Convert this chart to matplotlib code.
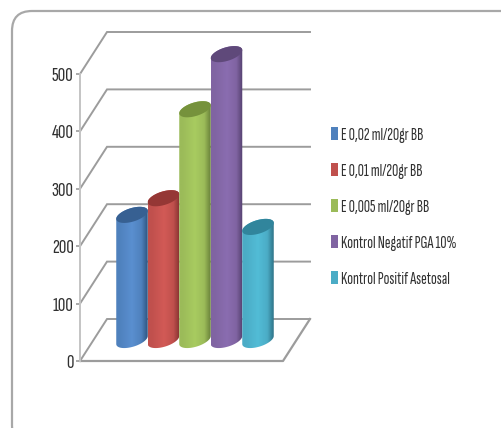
import numpy as np
import matplotlib
matplotlib.use("Agg")
import matplotlib.pyplot as plt
from matplotlib.colors import LinearSegmentedColormap
from matplotlib.patches import FancyBboxPatch, PathPatch, Patch
from matplotlib.path import Path
from matplotlib.transforms import IdentityTransform

# data
labels = ["E 0,02 ml/20gr BB", "E 0,01 ml/20gr BB", "E 0,005 ml/20gr BB",
          "Kontrol Negatif PGA 10%", "Kontrol Positif Asetosal"]
values = [218, 247, 402, 498, 197]
yticks = [0, 100, 200, 300, 400, 500]

colors = ["#4f81bd", "#c0504d", "#9bbb59", "#8064a2", "#4bacc6"]
light = ["#5a8fd0", "#d25a56", "#a8cb60", "#8a6db0", "#52bcd6"]
dark = ["#2f5580", "#843230", "#69813a", "#54406e", "#2f7488"]
caps = ["#376092", "#953735", "#76923c", "#5f497a", "#31859c"]

narrow = ["Sofia Sans Extra Condensed", "DejaVu Sans"]

W, H = 501, 428
# front plane of the box, in pixels
left, right, y_zero, y_top = 80, 283, 361, 74
# how far the back wall sits behind the front plane
depth_x, depth_y = 27, 42
back_right = 310
grid_color = "#9c9c9c"

fig = plt.figure(figsize=(W / 100, H / 100), dpi=100)
ax = fig.add_axes([left / W, 1 - y_zero / H, (right - left) / W, (y_zero - y_top) / H])
ax.patch.set_alpha(0)

# one category step is 31.5 px, first cylinder centred at 132 px
step = 31.5
ax.set_xlim((left - 132) / step, (right - 132) / step)
ax.set_ylim(0, 500)
sx = step
sy = (y_zero - y_top) / 500


def dx(px):
    return px / sx


def dy(px):
    return px / sy


# outer rounded border runs past the right and bottom edges
fig.add_artist(FancyBboxPatch((12, H - 445), 520, 434,
                              boxstyle="round,pad=0,rounding_size=20",
                              transform=IdentityTransform(),
                              fc="white", ec="#a8a8a8", lw=1.6, zorder=-5))

xl = ax.get_xlim()[0]
xr = ax.get_xlim()[1]

# side wall diagonals and back wall lines
for t in yticks:
    ax.plot([xl, xl + dx(depth_x), xl + dx(back_right - left)],
            [t, t + dy(depth_y), t + dy(depth_y)],
            color=grid_color, lw=1.4, clip_on=False, zorder=1, solid_joinstyle="miter")

# floor
ax.plot([xl, xr, xr + dx(depth_x)], [0, 0, dy(depth_y)],
        color=grid_color, lw=1.6, clip_on=False, zorder=1)

# cylinders
half_w = 0.5
tilt = dy(4)
minor = dy(7)
base = dy(depth_y / 2)
theta = np.linspace(0, 2 * np.pi, 121)
n_grad = 64

for i, v in enumerate(values):
    top = base + v
    # body outline: lower half of the foot, then upper half of the head
    t_low = np.linspace(np.pi, 2 * np.pi, 61)
    t_up = np.linspace(0, np.pi, 61)
    xs = np.r_[i + half_w * np.cos(t_low), i + half_w * np.cos(t_up)]
    ys = np.r_[base + minor * np.sin(t_low) + tilt * np.cos(t_low),
               top + minor * np.sin(t_up) + tilt * np.cos(t_up)]
    body = PathPatch(Path(np.c_[xs, ys]), fc="none", ec="none",
                     transform=ax.transData, clip_on=False)
    ax.add_patch(body)

    # horizontal shading across the body
    cmap = LinearSegmentedColormap.from_list(
        "c%d" % i, [(0, colors[i]), (0.1, colors[i]), (0.5, light[i]),
                    (0.8, colors[i]), (1, dark[i])])
    img = ax.imshow(np.linspace(0, 1, n_grad).reshape(1, -1), cmap=cmap, aspect="auto",
                    extent=(i - half_w, i + half_w, base - dy(12), top + dy(12)),
                    zorder=2 + i * 0.1)
    img.set_clip_box(fig.bbox)
    img.set_clip_path(body)

    ax.fill(i + half_w * np.cos(theta),
            top + minor * np.sin(theta) + tilt * np.cos(theta),
            color=caps[i], lw=0, clip_on=False, zorder=2.05 + i * 0.1)

ax.set_xlim(xl, xr)
ax.set_ylim(0, 500)

# left axis
ax.set_xticks([])
ax.set_yticks(yticks)
for s in ["top", "right", "bottom"]:
    ax.spines[s].set_visible(False)
ax.spines["left"].set_color("#c4c4c4")
ax.spines["left"].set_linewidth(1.4)
ax.tick_params(axis="y", length=3, width=1.2, color=grid_color, pad=1.5,
               labelsize=15, labelcolor="#303030")
for lab in ax.get_yticklabels():
    lab.set_family(narrow)

handles = [Patch(fc=c, ec="none", label=l) for c, l in zip(colors, labels)]
leg = ax.legend(handles=handles, loc="center left",
                bbox_to_anchor=((331 - left) / (right - left), (y_zero - 207) / (y_zero - y_top)),
                frameon=False, handlelength=0.4, handleheight=0.8, handletextpad=0.2,
                labelspacing=1.2,
                prop={"family": narrow, "size": 12.3},
                labelcolor="#303030", borderpad=0, borderaxespad=0)

fig.savefig("out.png", dpi=100)
